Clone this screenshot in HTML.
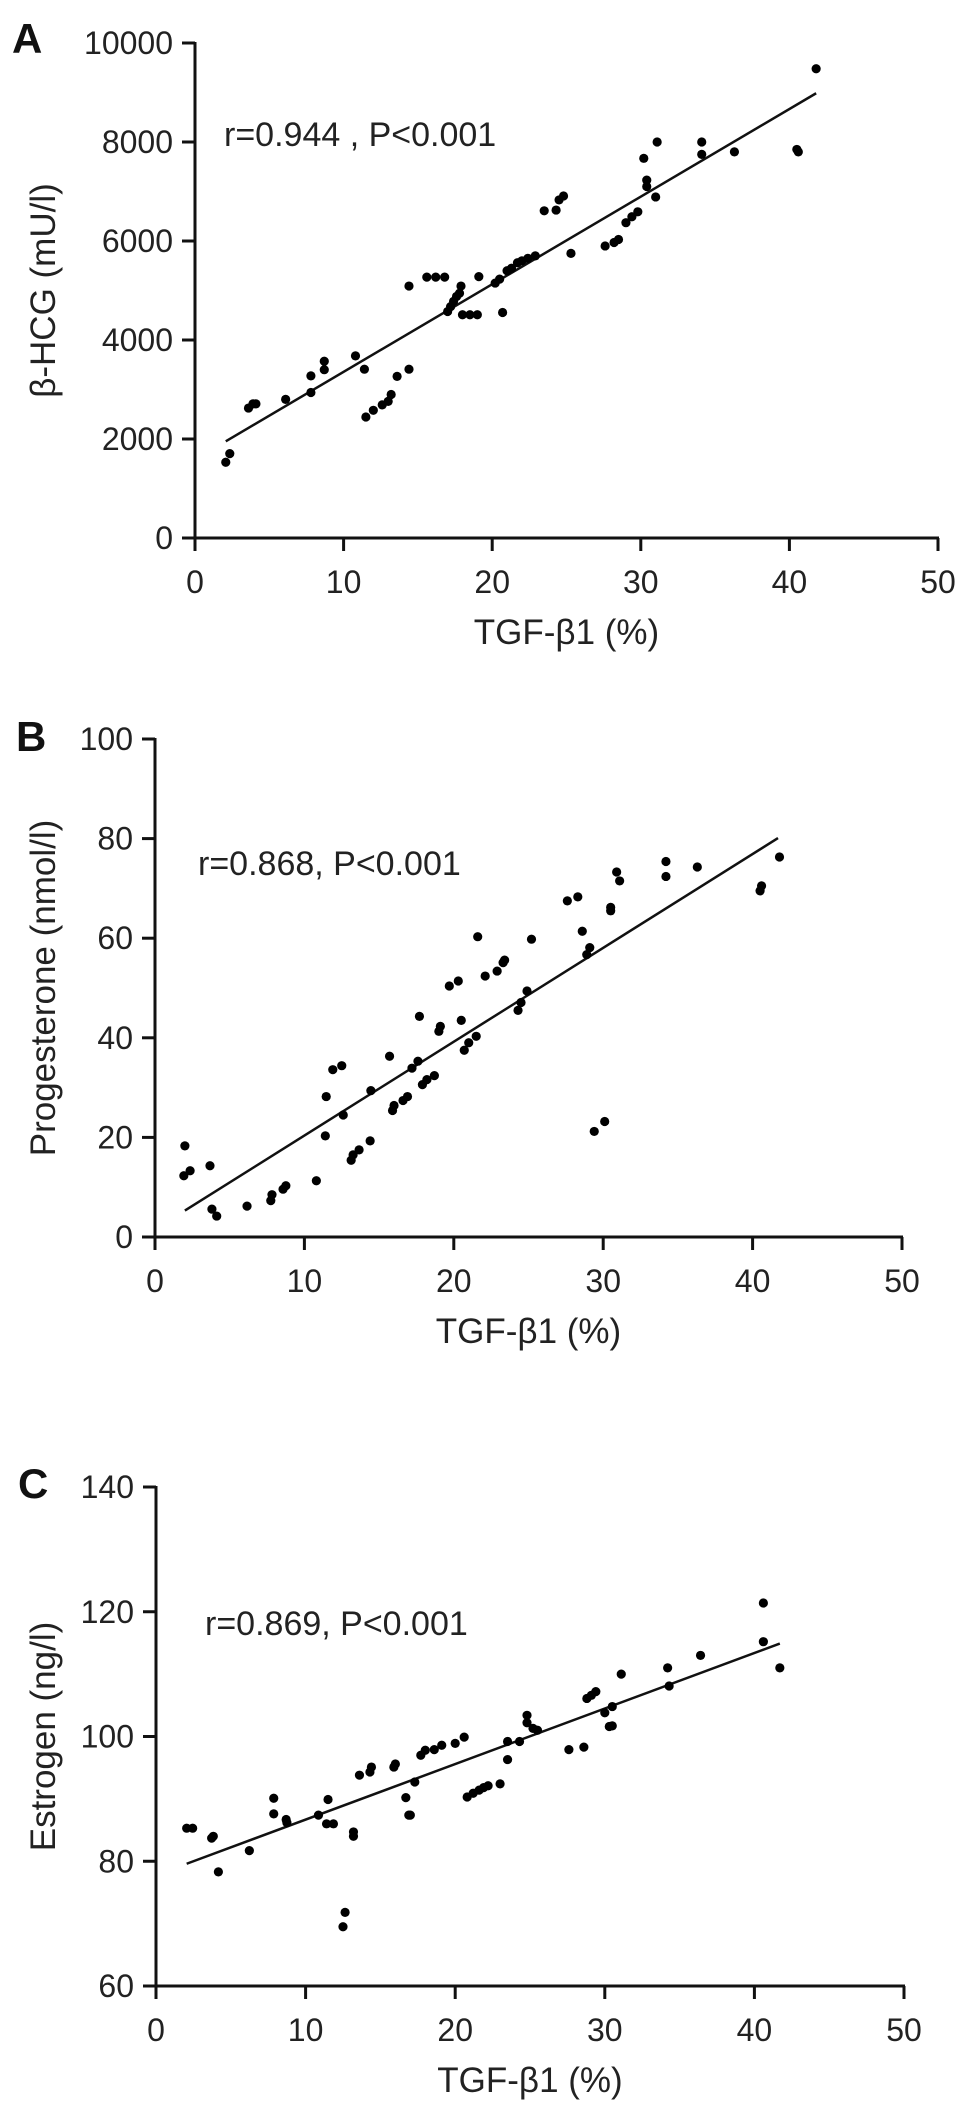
<!DOCTYPE html>
<html><head><meta charset="utf-8"><style>
html,body{margin:0;padding:0;background:#fff;}
svg{display:block;font-family:"Liberation Sans",Arial,sans-serif;}
</style></head><body>
<svg id="fig" width="969" height="2112" viewBox="0 0 969 2112">
<g id="pa"></g>
<g id="pb"></g>
<g id="pc"></g>
</svg>
<script>
// Panel A data (TGF-β1 %, β-HCG mU/l)
const aX = [2.07,2.34,3.6,3.9,4.1,6.1,7.8,7.8,8.7,8.7,10.8,11.4,11.5,12.0,12.6,13.0,13.2,13.6,14.4,14.4,15.6,16.2,16.8,17.0,17.2,17.4,17.6,17.8,17.9,18.0,18.5,19.0,19.1,20.2,20.5,20.7,21.0,21.3,21.7,22.0,22.4,22.9,23.5,24.3,24.5,24.8,25.3,27.6,28.2,28.5,29.0,29.4,29.8,30.2,30.4,30.4,31.0,31.1,34.1,34.1,36.3,40.5,40.6,41.8];
const aY = [1530,1705,2625,2710,2710,2800,3275,2940,3400,3570,3680,3410,2445,2580,2690,2760,2900,3265,3410,5090,5270,5270,5270,4575,4675,4780,4880,4945,5090,4510,4510,4510,5280,5150,5230,4555,5400,5450,5560,5600,5650,5700,6610,6625,6830,6910,5750,5900,5970,6030,6370,6490,6590,7670,7230,7100,6890,8000,8000,7750,7800,7850,7800,9480];
const aFit = [[2.07,1953],[41.8,8985]];
const aYTicks = [0,2000,4000,6000,8000,10000];
const aXTicks = [0,10,20,30,40,50];

// Panel B data (TGF-β1 %, Progesterone nmol/l)
const bX = [2.0,1.93,2.35,3.68,3.81,4.13,6.16,7.75,7.83,8.57,8.76,10.8,11.46,11.4,11.9,12.5,12.6,13.13,13.26,13.66,14.45,14.4,15.7,15.9,16.0,16.6,16.9,17.2,17.6,17.7,17.9,18.2,18.7,19.0,19.1,19.7,20.3,20.5,20.7,21.0,21.5,21.6,22.1,22.9,23.3,23.4,24.3,24.5,24.9,25.2,27.6,28.3,28.6,28.9,29.1,29.4,30.1,30.5,30.5,30.9,31.1,34.2,34.2,36.3,40.5,40.6,41.8];
const bY = [18.3,12.3,13.3,14.3,5.6,4.2,6.2,7.3,8.5,9.6,10.3,11.3,28.2,20.3,33.6,34.4,24.5,15.4,16.5,17.5,29.4,19.3,36.3,25.4,26.4,27.4,28.2,33.9,35.3,44.3,30.6,31.6,32.4,41.3,42.3,50.4,51.4,43.5,37.5,39.0,40.3,60.3,52.4,53.4,55.1,55.6,45.5,47.1,49.4,59.8,67.5,68.3,61.4,56.7,58.1,21.2,23.2,66.2,65.5,73.3,71.5,75.4,72.4,74.3,69.5,70.5,76.3];
const bFit = [[2.0,5.3],[41.7,80.1]];
const bYTicks = [0,20,40,60,80,100];
const bXTicks = [0,10,20,30,40,50];

// Panel C data (TGF-β1 %, Estrogen ng/l)
const cX = [2.05,2.45,3.72,3.83,4.17,6.24,7.87,7.87,8.7,8.75,10.86,11.5,11.4,11.86,12.64,12.5,13.2,13.2,13.6,14.3,14.4,15.9,16.0,16.7,16.9,17.0,17.3,17.7,18.0,18.6,19.1,20.0,20.6,20.8,21.2,21.6,21.9,22.2,23.0,23.5,23.5,24.3,24.8,24.8,25.2,25.5,27.6,28.6,28.8,29.1,29.4,30.0,30.5,30.3,30.5,31.1,34.2,34.3,36.4,40.6,40.6,41.7];
const cY = [85.3,85.3,83.7,84.0,78.3,81.7,90.1,87.6,86.7,86.2,87.4,89.9,86.0,86.0,71.8,69.5,84.7,84.0,93.8,94.3,95.1,95.1,95.6,90.2,87.4,87.4,92.7,97.0,97.8,97.9,98.6,98.9,99.9,90.3,90.9,91.4,91.8,92.1,92.4,96.3,99.2,99.2,103.4,102.2,101.3,101.0,97.9,98.3,106.1,106.6,107.2,103.8,104.8,101.6,101.7,110.0,111.0,108.1,113.0,121.4,115.2,111.0];
const cFit = [[2.05,79.6],[41.7,114.9]];
const cYTicks = [60,80,100,120,140];
const cXTicks = [0,10,20,30,40,50];

const NS = 'http://www.w3.org/2000/svg';
function mk(parent, tag, attrs, text){
  const e = document.createElementNS(NS, tag);
  for (const k in attrs) e.setAttribute(k, attrs[k]);
  if (text !== undefined) e.textContent = text;
  parent.appendChild(e);
  return e;
}

function drawPanel(cfg){
  const g = document.getElementById(cfg.id);
  const sx = v => cfg.x0 + (v - cfg.xmin) / (cfg.xmax - cfg.xmin) * (cfg.x1 - cfg.x0);
  const sy = v => cfg.y0 - (v - cfg.ymin) / (cfg.ymax - cfg.ymin) * (cfg.y0 - cfg.y1);

  const letter = mk(g, 'text', {x: cfg.letterX, y: cfg.letterY, 'font-size': 42, 'font-weight': 'bold', fill: '#111'}, cfg.letter);
  
  

  const yaxis = mk(g, 'line', {x1: cfg.x0, y1: cfg.y1 - 1, x2: cfg.x0, y2: cfg.y0 + 13, stroke: '#111', 'stroke-width': 3});
  
  
  const xaxis = mk(g, 'line', {x1: cfg.x0 - 13, y1: cfg.y0, x2: cfg.x1 + 1, y2: cfg.y0, stroke: '#111', 'stroke-width': 3});
  
  

  cfg.yTicks.forEach(t => {
    const y = sy(t);
    const tk = mk(g, 'line', {x1: cfg.x0 - 13, y1: y, x2: cfg.x0, y2: y, stroke: '#111', 'stroke-width': 3});
    
    
    const lb = mk(g, 'text', {x: cfg.x0 - 22, y: y + 11, 'font-size': 32, 'text-anchor': 'end', fill: '#222'}, String(t));
    
    
  });
  cfg.xTicks.forEach(t => {
    const x = sx(t);
    const tk = mk(g, 'line', {x1: x, y1: cfg.y0, x2: x, y2: cfg.y0 + 13, stroke: '#111', 'stroke-width': 3});
    
    
    const lb = mk(g, 'text', {x: x, y: cfg.y0 + 55, 'font-size': 32, 'text-anchor': 'middle', fill: '#222'}, String(t));
    
    
  });

  const xt = mk(g, 'text', {x: (cfg.x0 + cfg.x1) / 2, y: cfg.y0 + 106, 'font-size': 35, 'text-anchor': 'middle', fill: '#222'}, 'TGF-β1 (%)');
  
  
  const cy = (cfg.y0 + cfg.y1) / 2;
  const yt = mk(g, 'text', {x: 55, y: cy, 'font-size': 35, 'text-anchor': 'middle', fill: '#222', transform: 'rotate(-90 55 ' + cy + ')'}, cfg.yTitle);
  
  

  const an = mk(g, 'text', {x: cfg.annX, y: cfg.annY, 'font-size': 34, fill: '#222', 'xml:space': 'preserve'}, cfg.ann);
  
  

  const fl = mk(g, 'line', {x1: sx(cfg.fit[0][0]), y1: sy(cfg.fit[0][1]), x2: sx(cfg.fit[1][0]), y2: sy(cfg.fit[1][1]), stroke: '#111', 'stroke-width': 2.5});
  
  

  cfg.xs.forEach((xv, i) => {
    const c = mk(g, 'circle', {cx: sx(xv), cy: sy(cfg.ys[i]), r: 4.6, fill: '#000'});
    
    
  });
}

drawPanel({id:'pa', letter:'A', letterX:12, letterY:53, x0:195, x1:938, y0:538, y1:43, xmin:0, xmax:50, ymin:0, ymax:10000,
  xs:aX, ys:aY, fit:aFit, yTicks:aYTicks, xTicks:aXTicks, yTitle:'β-HCG (mU/l)', ann:'r=0.944 , P<0.001', annX:224, annY:146});
drawPanel({id:'pb', letter:'B', letterX:16, letterY:751, x0:155, x1:902, y0:1237, y1:739, xmin:0, xmax:50, ymin:0, ymax:100,
  xs:bX, ys:bY, fit:bFit, yTicks:bYTicks, xTicks:bXTicks, yTitle:'Progesterone (nmol/l)', ann:'r=0.868, P<0.001', annX:198, annY:875});
drawPanel({id:'pc', letter:'C', letterX:18, letterY:1498, x0:156, x1:904, y0:1986, y1:1487, xmin:0, xmax:50, ymin:60, ymax:140,
  xs:cX, ys:cY, fit:cFit, yTicks:cYTicks, xTicks:cXTicks, yTitle:'Estrogen (ng/l)', ann:'r=0.869,  P<0.001', annX:205, annY:1635});
</script>
</body></html>
